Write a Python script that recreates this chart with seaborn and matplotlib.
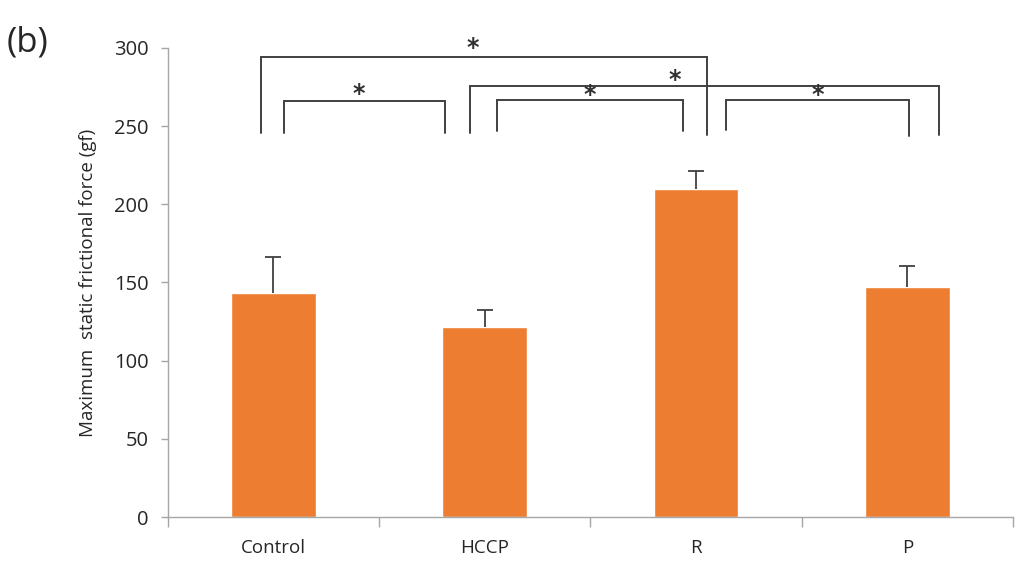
import numpy as np
import pandas as pd
import seaborn as sns
from matplotlib import pyplot as plt

groups = ['Control', 'HCCP', 'R', 'P']
force = [143.5, 121.3, 210.0, 147.0]
force_err = [23.0, 11.1, 11.3, 13.5]

# significance brackets: (left x, right x, top y, left leg bottom, right leg bottom)
brackets = [
    (-0.06, 2.05, 294.4, 245.6, 244.5),
    (0.05, 0.81, 266.0, 245.8, 245.8),
    (0.93, 3.15, 275.7, 245.8, 244.4),
    (1.06, 1.94, 266.7, 247.0, 247.0),
    (2.14, 3.01, 266.7, 247.5, 244.0),
]
star_x = [0.944, 0.405, 1.90, 1.497, 2.574]
star_y = [300.0, 270.5, 279.5, 270.0, 270.0]

sns.set_style('white')
plt.rcParams['font.family'] = ['Open Sans', 'DejaVu Sans']

data = pd.DataFrame({'group': groups, 'force': force})

fig = plt.figure(figsize=(10.17, 5.74), dpi=100)
ax = fig.add_axes([0.165, 0.0993, 0.831, 0.8171])

sns.barplot(data=data, x='group', y='force', color='#ED7D31', width=0.4,
            errorbar=None, saturation=1, ax=ax)
_, caps, _ = ax.errorbar(np.arange(len(groups)), force,
                         yerr=[np.zeros(len(groups)), force_err],
                         fmt='none', ecolor='#404040', elinewidth=1.3,
                         capsize=6, capthick=1.3)
caps[0].set_visible(False)  # only the upper cap, like Excel "plus" bars

for x0, x1, top, b0, b1 in brackets:
    ax.plot([x0, x0, x1, x1], [b0, top, top, b1], color='#404040', lw=1.4,
            clip_on=False, solid_joinstyle='miter')
for sx, sy in zip(star_x, star_y):
    ax.text(sx, sy, '*', ha='center', va='center', fontsize=17, fontweight='bold',
            color='#303030', family='DejaVu Sans')

ax.set_xlim(-0.5, 3.5)
ax.set_ylim(0, 300)
ax.set_yticks(range(0, 301, 50))
ax.set_xlabel('')
ax.set_ylabel('Maximum  static frictional force (gf)', fontsize=13.5, labelpad=12)

sns.despine(ax=ax)
for side in ['left', 'bottom']:
    ax.spines[side].set_color('#a6a6a6')
    ax.spines[side].set_linewidth(1.0)

ax.tick_params(axis='y', direction='out', length=5, width=1, color='#a6a6a6',
               pad=9, labelsize=14.5, left=True)
ax.tick_params(axis='x', which='major', length=0, pad=16, labelsize=13.5)
ax.set_xticks([-0.5, 0.5, 1.5, 2.5, 3.5], minor=True)
ax.tick_params(axis='x', which='minor', direction='out', length=7, width=1,
               color='#a6a6a6', bottom=True)

fig.text(0.007, 0.91, '(b)', fontsize=25, ha='left', va='baseline')

plt.savefig('out.png', dpi=100)
